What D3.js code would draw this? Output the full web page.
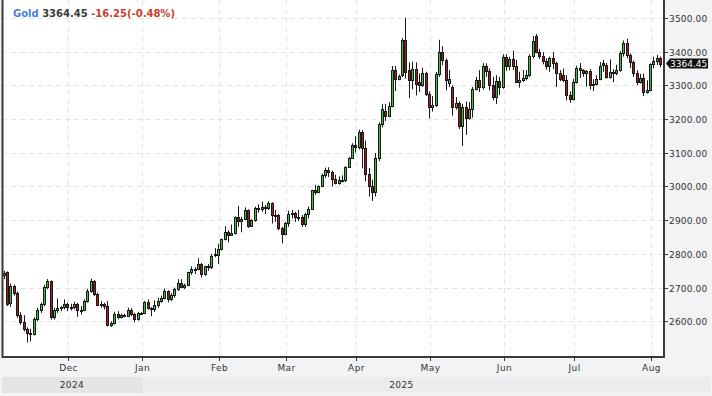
<!DOCTYPE html>
<html><head><meta charset="utf-8">
<script src="https://cdn.jsdelivr.net/npm/d3@7"></script>
<style>
html,body{margin:0;padding:0;background:#f2f3f5;}
svg{display:block;}
text{font-family:"DejaVu Sans",Verdana,sans-serif;}
</style></head><body>
<svg id="chart" width="712" height="396"></svg>
<script>
const symbol = "Gold";
const lastPriceText = "3364.45";
const lastPrice = 3364.45;
const changeText = "-16.25(-0.48%)";
const firstDate = "2024-11-05";
const priceTicks = [2600, 2700, 2800, 2900, 3000, 3100, 3200, 3300, 3400, 3500];
const monthNames = ["Jan","Feb","Mar","Apr","May","Jun","Jul","Aug","Sep","Oct","Nov","Dec"];

// Nov 2024 .. Aug 2025, one value per weekday
const open = [
 2736,2745,2655,2705,2685,2620,2598,2578,2566,2562,2608,2632,2650,2702,2718,2612,2632,2638,2642,
 2650,2642,2643,2650,2633,2633,2660,2690,2718,2680,2648,2652,2646,2588,2594,2622,2612,2618,2616,2634,2621,2606,
 2624,2625,2657,2640,2636,2648,2661,2670,2690,2665,2677,2697,2715,2703,2708,2745,2756,2755,2771,2740,2763,2760,2800,
 2798,2815,2843,2866,2856,2861,2908,2898,2904,2929,2883,2899,2935,2933,2939,2936,2951,2915,2916,2876,
 2858,2893,2918,2920,2910,2910,2889,2917,2934,2988,2984,3000,3034,3048,3044,3022,3011,3019,3018,3057,3085,
 3123,3118,3160,3114,3037,3000,2982,3083,3185,3225,3210,3240,3345,3318,3330,3435,3346,3316,3348,3310,3302,3336,
 3275,3235,3242,3333,3398,3375,3306,3296,3236,3248,3180,3235,3203,3230,3290,3316,3296,3358,3342,3300,3265,3313,
 3296,3385,3356,3378,3356,3311,3316,3322,3330,3386,3445,3400,3388,3372,3358,3380,3366,3336,3330,3315,3272,
 3260,3311,3351,3345,3336,3342,3301,3305,3318,3367,3360,3325,3340,3337,3345,3397,3425,3390,3368,3336,3310,3322,3280,
 3287,3363,3372,3381
];
const high = [
 2750,2748,2712,2709,2688,2627,2618,2582,2578,2612,2640,2655,2708,2725,2721,2640,2668,2645,2665,
 2656,2652,2658,2655,2645,2665,2696,2726,2722,2685,2660,2655,2660,2600,2628,2630,2622,2622,2640,2639,2625,2628,
 2628,2660,2665,2642,2662,2670,2676,2697,2692,2683,2700,2725,2725,2712,2747,2763,2760,2787,2773,2765,2770,2800,2817,
 2830,2845,2882,2870,2887,2911,2942,2910,2938,2932,2903,2940,2947,2955,2945,2956,2953,2930,2918,2880,
 2895,2928,2930,2925,2930,2915,2922,2940,2990,3005,3003,3038,3056,3057,3047,3035,3030,3033,3060,3087,3128,
 3149,3168,3167,3136,3055,3020,3099,3190,3245,3245,3250,3357,3357,3332,3440,3500,3368,3370,3368,3335,3352,3340,
 3282,3268,3340,3435,3416,3380,3345,3300,3265,3252,3245,3252,3250,3295,3325,3345,3366,3365,3350,3325,3330,3325,
 3392,3392,3385,3403,3375,3340,3345,3345,3392,3446,3452,3408,3398,3380,3385,3398,3370,3345,3350,3330,3282,
 3320,3358,3366,3348,3345,3348,3318,3330,3369,3375,3366,3377,3348,3361,3402,3433,3438,3395,3373,3345,3334,3335,
 3315,3365,3385,3390,3385
];
const low = [
 2725,2645,2643,2676,2610,2590,2570,2537,2540,2558,2600,2625,2645,2695,2605,2605,2625,2630,2635,
 2630,2632,2635,2613,2620,2630,2655,2685,2675,2645,2640,2635,2585,2583,2590,2606,2608,2612,2614,2616,2597,2602,
 2620,2622,2635,2615,2628,2640,2655,2665,2656,2660,2670,2690,2698,2695,2705,2738,2740,2752,2730,2735,2750,2755,2790,
 2770,2810,2840,2834,2853,2858,2880,2864,2900,2877,2880,2895,2922,2925,2918,2930,2890,2895,2870,2832,
 2855,2880,2905,2895,2897,2880,2880,2905,2930,2975,2980,2998,3025,3028,2999,3006,3005,3012,3013,3055,3082,
 3100,3110,3054,3015,2970,2957,2970,3075,3175,3194,3205,3235,3283,3315,3325,3320,3262,3288,3270,3280,3295,3268,
 3202,3222,3236,3325,3360,3285,3295,3210,3228,3170,3120,3153,3198,3204,3285,3280,3287,3325,3285,3255,3245,3271,
 3290,3343,3345,3345,3307,3293,3310,3315,3325,3380,3395,3378,3362,3346,3340,3348,3295,3312,3310,3255,3248,
 3255,3305,3322,3325,3296,3287,3283,3300,3315,3340,3320,3320,3309,3330,3340,3385,3380,3351,3325,3300,3305,3268,
 3275,3282,3350,3360,3353
];
const close = [
 2743,2652,2705,2685,2620,2598,2578,2566,2562,2608,2632,2650,2702,2718,2612,2632,2638,2642,2650,
 2642,2643,2650,2633,2633,2660,2690,2718,2680,2648,2652,2646,2588,2594,2622,2612,2618,2616,2634,2621,2606,2624,
 2625,2657,2640,2636,2648,2661,2670,2690,2665,2677,2697,2715,2703,2708,2745,2756,2755,2771,2740,2763,2760,2795,2798,
 2815,2843,2866,2856,2861,2908,2898,2904,2929,2883,2899,2935,2933,2939,2936,2951,2915,2916,2876,2858,
 2893,2918,2920,2910,2910,2889,2917,2934,2988,2984,3000,3034,3048,3044,3022,3011,3019,3018,3057,3085,3123,
 3118,3160,3114,3037,3000,2982,3083,3185,3229,3210,3240,3345,3318,3328,3435,3338,3316,3348,3304,3302,3336,3275,
 3235,3242,3333,3398,3375,3316,3320,3236,3248,3180,3235,3203,3230,3290,3316,3296,3358,3342,3300,3265,3313,3296,
 3385,3356,3378,3356,3311,3316,3322,3330,3386,3432,3400,3388,3372,3358,3380,3366,3336,3320,3315,3272,3260,
 3311,3351,3345,3336,3342,3301,3305,3318,3356,3360,3325,3340,3337,3345,3397,3425,3390,3368,3336,3310,3322,3280,3287,
 3363,3372,3381,3364
];

// trading days (weekdays) starting at firstDate
const dates = [];
{
  const d = new Date(firstDate + "T00:00:00Z");
  while (dates.length < close.length) {
    const wd = d.getUTCDay();
    if (wd !== 0 && wd !== 6) dates.push(new Date(d));
    d.setUTCDate(d.getUTCDate() + 1);
  }
}
const bars = close.map((c, i) => ({i, date: dates[i], o: open[i], h: high[i], l: low[i], c}));

const W = 712, H = 396;
const plot = {left: 2, right: 664, top: 0, bottom: 357};
const x = d3.scaleLinear().domain([-0.8, bars.length - 1 + 0.9]).range([plot.left, plot.right]);
const y = d3.scaleLinear().domain([2497, 3553]).range([356, 0]);

const svg = d3.select("#chart");
svg.append("rect").attr("width", W).attr("height", H).attr("fill", "#f2f3f5");
svg.append("rect").attr("x", plot.left).attr("y", plot.top)
  .attr("width", plot.right - plot.left).attr("height", plot.bottom - plot.top).attr("fill", "#ffffff");

// month ticks: first bar of each month
const monthTicks = bars.filter((b, k) => k > 0 && b.date.getUTCMonth() !== bars[k - 1].date.getUTCMonth());

const grid = svg.append("g");
priceTicks.forEach(t => {
  const yy = Math.round(y(t)) + 0.5;
  grid.append("line").attr("x1", plot.left).attr("x2", plot.right).attr("y1", yy).attr("y2", yy)
    .attr("stroke", "#e3e3e3").attr("stroke-dasharray", "5,4");
});
monthTicks.forEach(b => {
  const xx = Math.round(x(b.i)) + 0.5;
  grid.append("line").attr("x1", xx).attr("x2", xx).attr("y1", plot.top).attr("y2", plot.bottom)
    .attr("stroke", "#e3e3e3").attr("stroke-dasharray", "5,4");
});

// candles
const cg = svg.append("g");
bars.forEach(b => {
  const cx = Math.round(x(b.i));
  cg.append("line").attr("x1", cx - 0.5).attr("x2", cx - 0.5)
    .attr("y1", y(b.h)).attr("y2", y(b.l)).attr("stroke", "#1a1a1a").attr("stroke-width", 1);
});
bars.forEach(b => {
  const cx = Math.round(x(b.i));
  const up = b.c >= b.o;
  const top = Math.round(y(Math.max(b.o, b.c)));
  const bot = Math.round(y(Math.min(b.o, b.c)));
  cg.append("rect").attr("x", cx - 1.5).attr("y", top + 0.5)
    .attr("width", 2).attr("height", Math.max(bot - top, 1))
    .attr("fill", up ? "#3fbf3f" : "#a31c1c").attr("stroke", "#1a1a1a").attr("stroke-width", 1);
});

// frame
const frame = svg.append("g").attr("stroke", "#3a3a3a").attr("stroke-width", 2).attr("fill", "none");
frame.append("line").attr("x1", plot.left + 0.5).attr("x2", plot.left + 0.5).attr("y1", plot.top).attr("y2", plot.bottom + 1);
frame.append("line").attr("x1", plot.right).attr("x2", plot.right).attr("y1", plot.top).attr("y2", plot.bottom + 1);
frame.append("line").attr("x1", plot.left).attr("x2", plot.right + 1).attr("y1", plot.bottom).attr("y2", plot.bottom);

// y axis labels
const ya = svg.append("g");
priceTicks.forEach(t => {
  const yy = Math.round(y(t)) + 0.5;
  ya.append("line").attr("x1", plot.right).attr("x2", plot.right + 4).attr("y1", yy).attr("y2", yy)
    .attr("stroke", "#3a3a3a");
  ya.append("text").attr("x", plot.right + 5).attr("y", yy + 3.3).attr("font-size", 9)
    .attr("letter-spacing", 0.15).attr("fill", "#333").text(d3.format(".2f")(t));
});

// x axis labels
const xa = svg.append("g");
monthTicks.forEach(b => {
  const xx = Math.round(x(b.i)) + 0.5;
  xa.append("line").attr("x1", xx).attr("x2", xx).attr("y1", plot.bottom).attr("y2", plot.bottom + 4)
    .attr("stroke", "#3a3a3a");
  xa.append("text").attr("x", xx).attr("y", 371).attr("text-anchor", "middle").attr("font-size", 9)
    .attr("letter-spacing", 0.4).attr("fill", "#333").text(monthNames[b.date.getUTCMonth()]);
});

// year band
const janBar = monthTicks.find(b => b.date.getUTCMonth() === 0);
const janX = Math.round(x(janBar.i));
const years = [
  {label: String(bars[0].date.getUTCFullYear()), x0: plot.left, x1: janX, fill: "#e3e4e6"},
  {label: String(janBar.date.getUTCFullYear()), x0: janX, x1: 710, fill: "#ebecee"}
];
years.forEach((yr, k) => {
  svg.append("rect").attr("x", yr.x0).attr("y", 377).attr("width", yr.x1 - yr.x0).attr("height", 16).attr("fill", yr.fill);
  const cxText = k === 0 ? (yr.x0 + yr.x1) / 2 : (yr.x0 + x(bars.length - 1)) / 2;
  svg.append("text").attr("x", cxText).attr("y", 388).attr("text-anchor", "middle").attr("font-size", 9)
    .attr("letter-spacing", 0.4).attr("fill", "#333").text(yr.label);
});

// last price marker
const yl = y(lastPrice);
svg.append("path").attr("d", `M${plot.right + 2},${yl} L${plot.right + 6},${yl - 5} L708,${yl - 5} L708,${yl + 5} L${plot.right + 6},${yl + 5} Z`)
  .attr("fill", "#111");
svg.append("text").attr("x", plot.right + 6).attr("y", yl + 3.3).attr("font-size", 9)
  .attr("fill", "#fff").text(lastPriceText);

// legend
const lg = svg.append("text").attr("x", 13).attr("y", 17).attr("font-size", 10).attr("font-weight", "bold");
lg.append("tspan").attr("fill", "#4a7fd6").text(symbol);
lg.append("tspan").attr("fill", "#3a3a3a").text(" " + lastPriceText);
lg.append("tspan").attr("fill", "#c8402a").text(" " + changeText);
</script>
</body></html>
